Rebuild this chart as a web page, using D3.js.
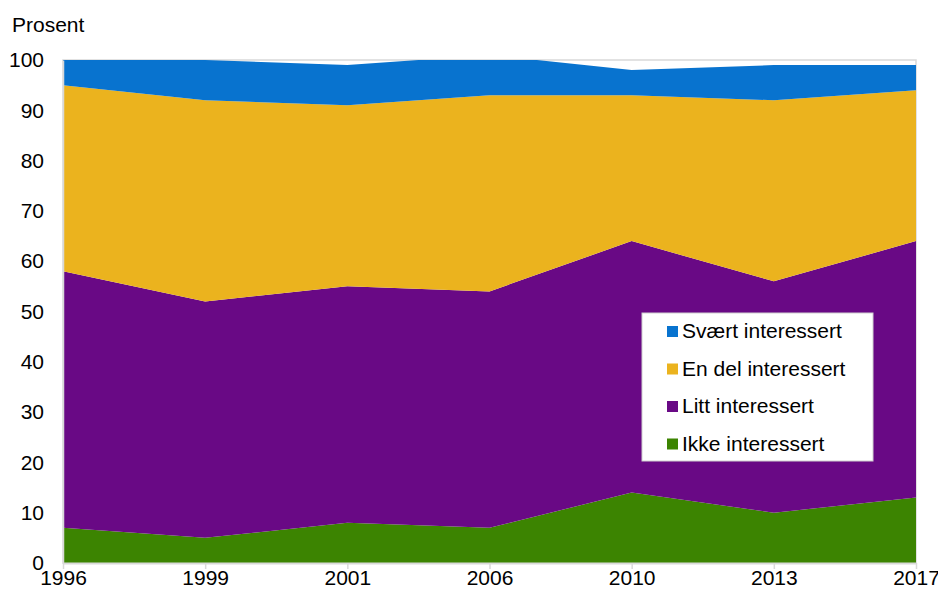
<!DOCTYPE html>
<html>
<head>
<meta charset="utf-8">
<script src="https://cdn.jsdelivr.net/npm/d3@7"></script>
<style>
  body { margin: 0; background: #fff; }
  text { font-family: "Liberation Sans", Arial, sans-serif; fill: #000; }
</style>
</head>
<body>
<div id="chart"></div>
<script>
// survey years (x categories)
const years = ["1996", "1999", "2001", "2006", "2010", "2013", "2017"];

// series values, percent (bottom to top of the stack)
const ikke = [7, 5, 8, 7, 14, 10, 13];
const litt = [51, 47, 47, 47, 50, 46, 51];
const enDel = [37, 40, 36, 39, 29, 36, 30];
const svaert = [5, 8, 8, 8, 5, 7, 5];

const seriesNames = ["Ikke interessert", "Litt interessert", "En del interessert", "Svært interessert"];
const seriesColors = ["#3c8401", "#690985", "#ebb31e", "#0873cf"];
const yTicks = [0, 10, 20, 30, 40, 50, 60, 70, 80, 90, 100];

const width = 938, height = 589;
const margin = {top: 60, right: 22, bottom: 26, left: 63};
const innerW = width - margin.left - margin.right;
const innerH = height - margin.top - margin.bottom;

// build rows for d3.stack
const rows = years.map((y, i) => ({
    year: y,
    s0: ikke[i], s1: litt[i], s2: enDel[i], s3: svaert[i]
}));

const stacked = d3.stack().keys(["s0", "s1", "s2", "s3"])(rows);

const svg = d3.select("#chart")
    .append("svg")
        .attr("width", width)
        .attr("height", height);

const g = svg.append("g")
    .attr("transform", "translate(" + margin.left + "," + margin.top + ")");

const xScale = d3.scalePoint()
    .domain(years)
    .range([0, innerW]);

const yScale = d3.scaleLinear()
    .domain([0, 100])
    .range([innerH, 0]);

// clip areas to the plot frame (totals slightly above 100 get cut)
svg.append("defs").append("clipPath")
    .attr("id", "plotclip")
    .append("rect")
        .attr("width", innerW)
        .attr("height", innerH);

// plot frame
g.append("rect")
    .attr("width", innerW)
    .attr("height", innerH)
    .attr("fill", "none")
    .attr("stroke", "#d9d9d9")
    .attr("stroke-width", 1.5);

const area = d3.area()
    .x(d => xScale(d.data.year))
    .y0(d => yScale(d[0]))
    .y1(d => yScale(d[1]));

g.append("g")
    .attr("clip-path", "url(#plotclip)")
    .selectAll("path")
    .data(stacked)
    .enter()
    .append("path")
        .attr("fill", (d, i) => seriesColors[i])
        .attr("d", area);

// y axis
const yAxis = g.append("g")
    .call(d3.axisLeft(yScale).tickValues(yTicks).tickSize(0).tickPadding(19));
yAxis.select(".domain").attr("stroke", "#d9d9d9").attr("stroke-width", 1.5);
yAxis.selectAll("text")
    .attr("font-size", "21px")
    .attr("font-family", "Liberation Sans, Arial, sans-serif")
    .attr("fill", "#000");

// x axis
const xAxis = g.append("g")
    .attr("transform", "translate(0," + innerH + ")")
    .call(d3.axisBottom(xScale).tickSize(6).tickSizeOuter(0).tickPadding(1));
xAxis.select(".domain").attr("stroke", "#d9d9d9").attr("stroke-width", 2);
xAxis.selectAll("line").attr("stroke", "#d9d9d9").attr("stroke-width", 1.5);
xAxis.selectAll("text")
    .attr("font-size", "21px")
    .attr("font-family", "Liberation Sans, Arial, sans-serif")
    .attr("fill", "#000");

// unit label
svg.append("text")
    .attr("x", 12)
    .attr("y", 32)
    .attr("font-size", "21px")
    .text("Prosent");

// legend
const legend = svg.append("g")
    .attr("transform", "translate(642,313)");

legend.append("rect")
    .attr("width", 231)
    .attr("height", 148)
    .attr("fill", "#fff")
    .attr("stroke", "#d0d0d0")
    .attr("stroke-width", 1);

const legendOrder = [3, 2, 1, 0];
legendOrder.forEach((si, row) => {
    const cy = 18 + row * 37.5;
    legend.append("rect")
        .attr("x", 25)
        .attr("y", cy - 5)
        .attr("width", 11)
        .attr("height", 11)
        .attr("fill", seriesColors[si]);
    legend.append("text")
        .attr("x", 40)
        .attr("y", cy + 7)
        .attr("font-size", "21px")
        .text(seriesNames[si]);
});
</script>
</body>
</html>
